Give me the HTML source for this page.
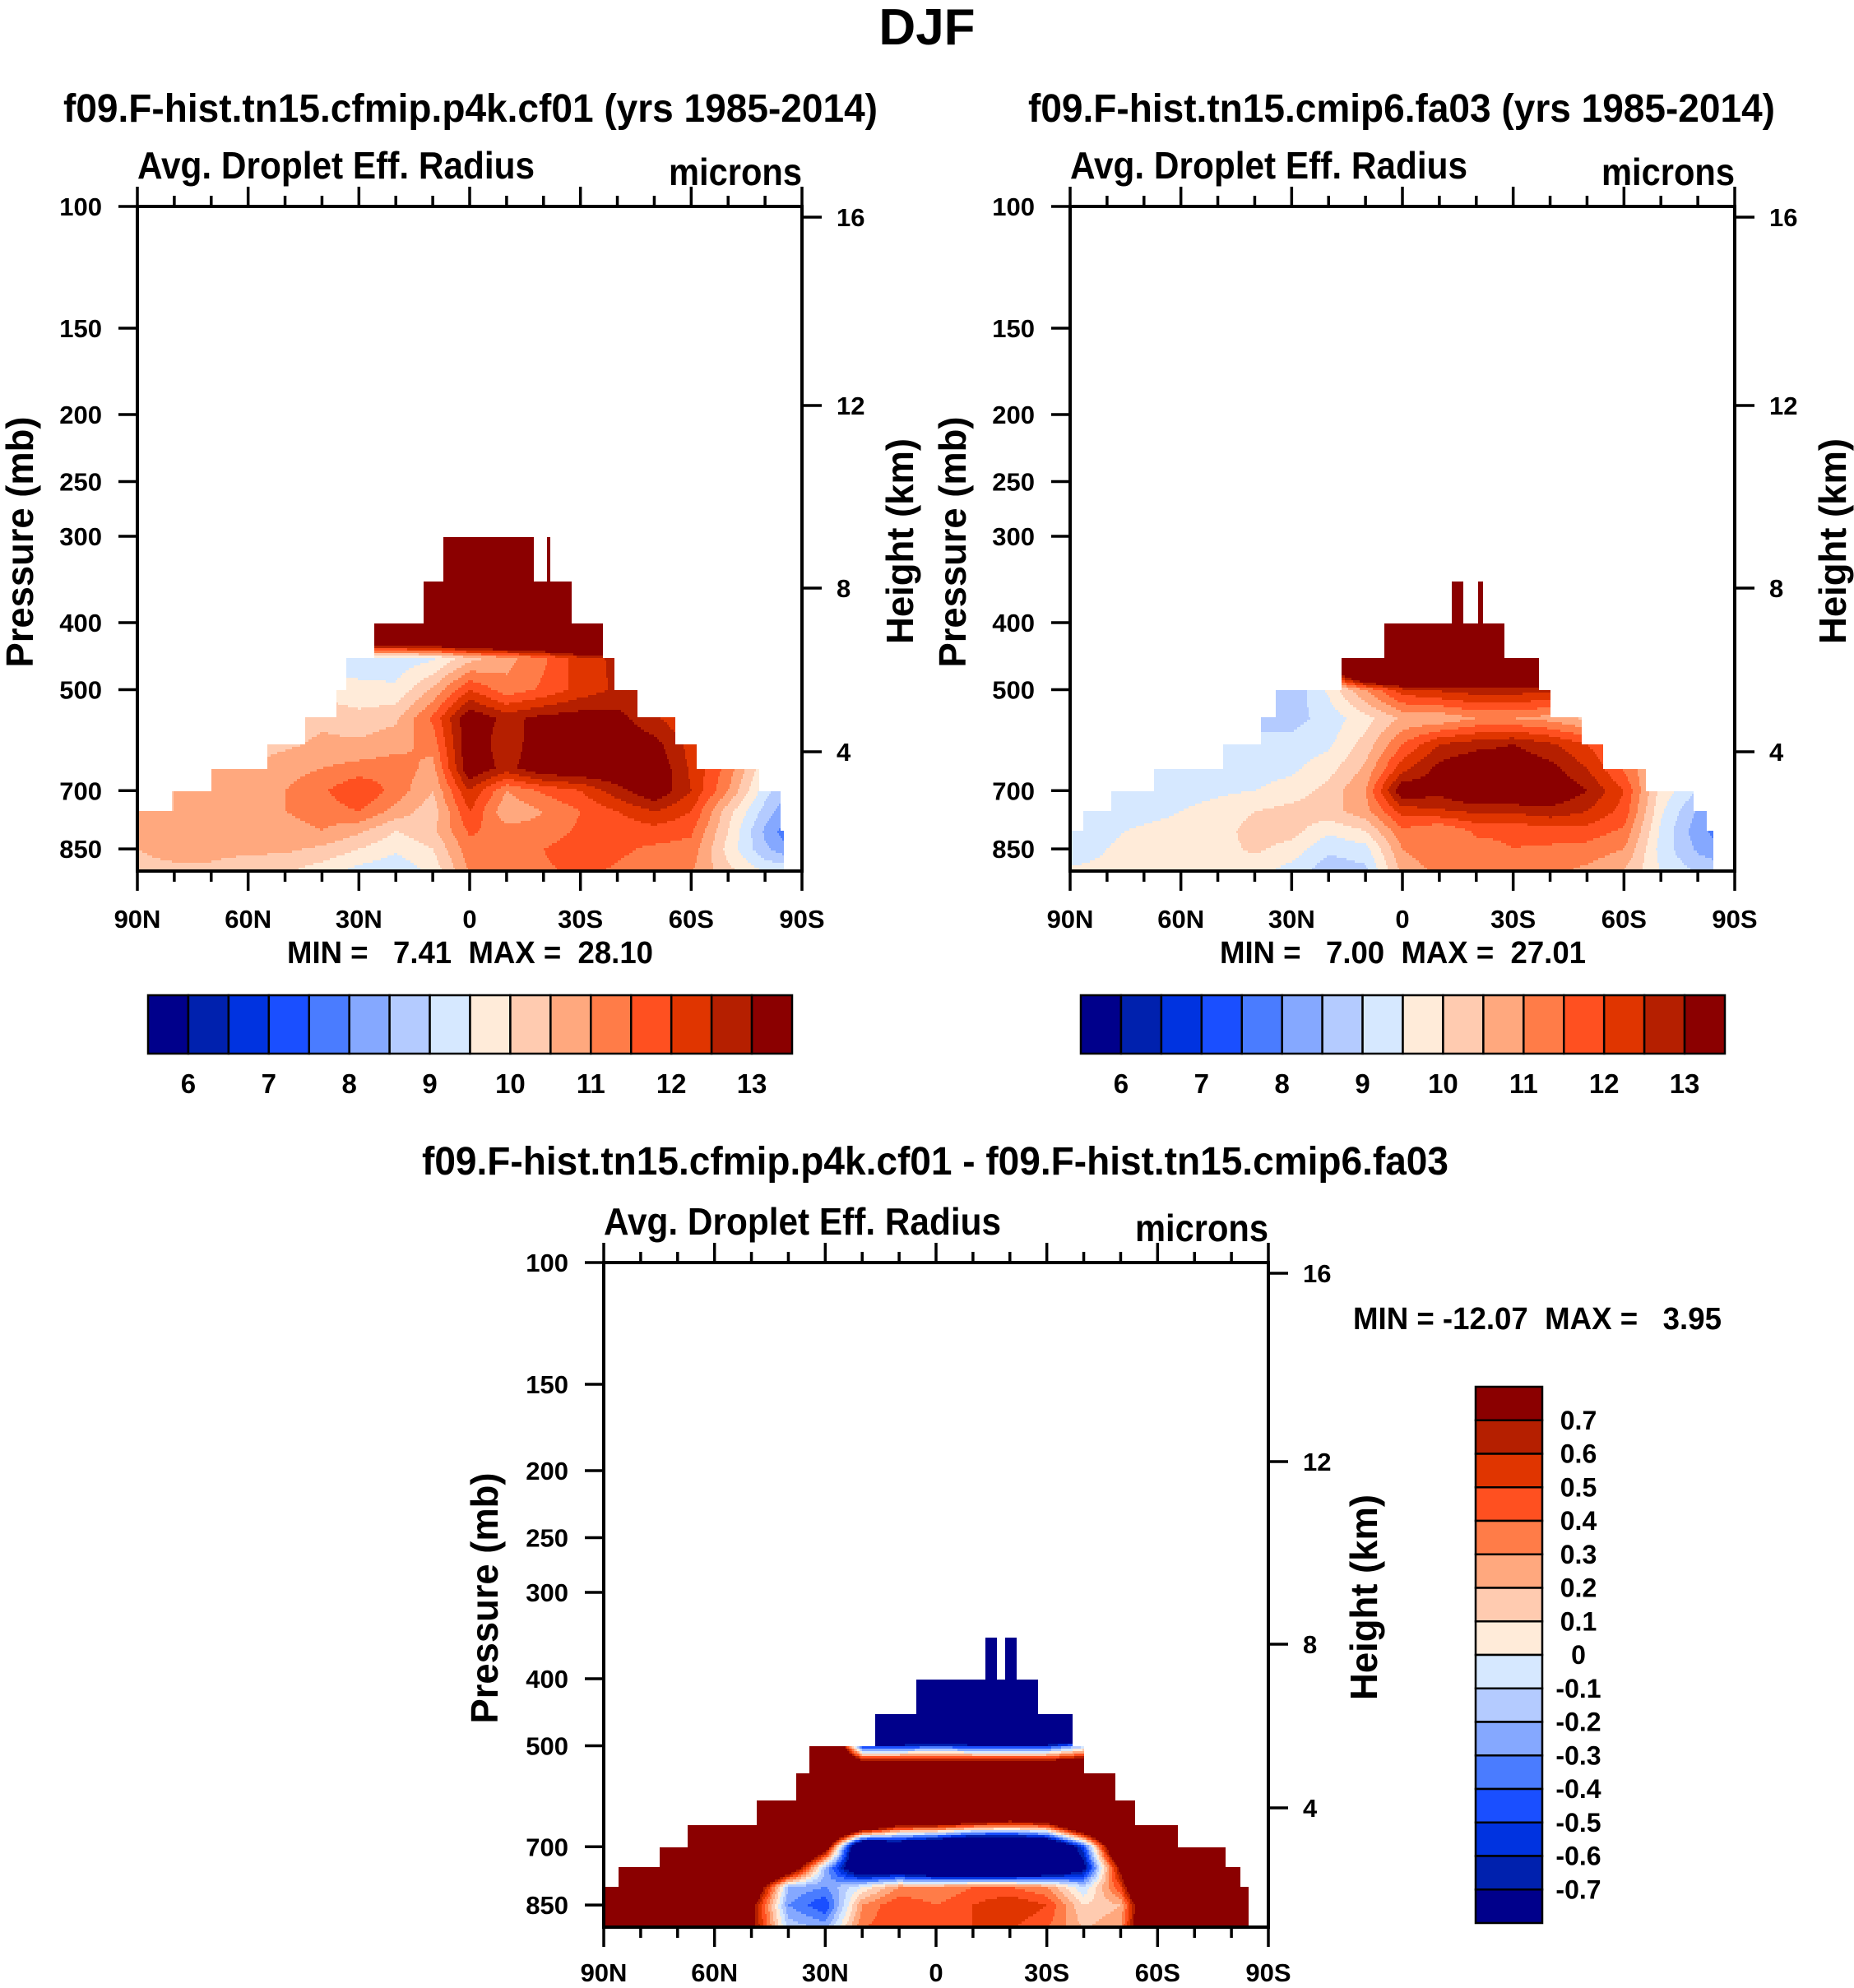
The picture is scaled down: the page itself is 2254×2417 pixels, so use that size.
<!DOCTYPE html>
<html><head><meta charset="utf-8"><style>
html,body{margin:0;padding:0;background:#fff;}
svg{display:block;font-family:"Liberation Sans",Arial,sans-serif;font-weight:bold;}
</style></head>
<body>
<svg id="fig" xmlns="http://www.w3.org/2000/svg" width="2254" height="2417" viewBox="0 0 2254 2417">
<rect x="0" y="0" width="2254" height="2417" fill="#fff"/>
<text x="1127" y="54" font-size="62" text-anchor="middle">DJF</text>
</svg>
<script>
// ---------- data ----------
const PALETTE = ['#00008b','#0021ae','#0033e0','#1a4fff','#4a7cff','#85a8ff','#b4cbff','#d6e8ff','#ffebd9','#ffcbb0','#ffa87e','#ff7c48','#ff5020','#e03500','#b51f00','#8b0000'];
const LAT_NODES = [90,80,70,60,50,40,30,20,10,0,-10,-20,-30,-40,-50,-60,-70,-80,-90];
const P_NODES = [300,400,450,500,550,600,650,700,750,800,850,925];
const P_TICKS = [100,150,200,250,300,400,500,700,850];
const LAT_TICKS = [90,60,30,0,-30,-60,-90];
const LAT_TICK_LABELS = ['90N','60N','30N','0','30S','60S','90S'];
const Z_TICK_LABELS = ['16','12','8','4'];
const LEVELS_ABS = [6,6.5,7,7.5,8,8.5,9,9.5,10,10.5,11,11.5,12,12.5,13];
const LEVELS_DIFF = [-0.7,-0.6,-0.5,-0.4,-0.3,-0.2,-0.1,0,0.1,0.2,0.3,0.4,0.5,0.6,0.7];

const FIELD_A = [
 [20,20,20,20,20,20,20,20,20,20,20,20,20,20,20,20,20,20,20],
 [20,20,20,20,20,20,20,20,20,20,20,20,20,20,20,20,20,20,20],
 [9,9,9,9,9,9.2,9.3,9.2,9.4,10.3,10.8,11.4,12.3,12.6,12,11,10,9,9],
 [9,9,9,9,9.5,9.8,9.6,9.6,10.6,12.0,11.2,11.6,12.2,12.6,12.6,11.5,10.5,9.5,9],
 [9.5,9.5,9.8,10,10.2,10.4,10.2,10.4,11.6,13.5,12.8,13.2,13.3,13.2,12.6,12,11,10,9.5],
 [10,10,10,10.2,10.4,10.6,10.6,10.8,11.2,13.5,12.6,13.5,13.6,13.5,13.2,12.3,11.2,9.8,9],
 [10.4,10.4,10.5,10.6,10.8,11,11.2,11.3,10.8,13.5,12.8,13.5,13.6,13.6,13.5,12.4,11.3,9.6,8.8],
 [10.4,10.5,10.6,10.8,11,11.4,12,11.3,10.5,12.5,11,11.6,12,12.8,13.5,12.5,11,9.2,8.2],
 [10.5,10.5,10.6,10.8,11,11.2,11.5,10.8,10.2,12,10.6,11,11.5,12,12.5,12,10.2,8.8,7.6],
 [10.5,10.6,10.6,10.8,10.8,11,10.6,10,10.4,11.6,11.2,11.2,11.6,11.6,11.8,11.6,10.0,8.4,7.2],
 [10.5,10.6,10.6,10.6,10.6,10.4,10,9.6,10,11.3,11.3,11.5,11.8,11.6,11.4,11.3,9.8,8.6,7.8],
 [10.4,10.4,10.4,10.2,10,9.6,9.2,9.0,9.6,11,11.3,11.4,11.6,11.4,11.2,11,10.2,9.6,9.6]
];
const FIELD_B = [
 [20,20,20,20,20,20,20,20,20,20,20,20,20,20,20,20,20,20,20],
 [20,20,20,20,20,20,20,20,20,20,20,20,20,20,20,20,20,20,20],
 [9.2,9.2,9.2,9.2,9.2,9.2,9.2,14,20,20,20,20,20,20,14,12,12,12,12],
 [9.1,9.1,9.1,9,9,8.8,8.6,9.6,11,12.3,12.6,12.8,12.8,12.6,12.3,12,11,10,9.5],
 [9.2,9.2,9.2,9.1,9,8.9,8.8,9.2,9.8,10.6,10.6,11,11,10.8,10.4,10.3,10.2,9.6,9.3],
 [9.2,9.2,9.2,9.2,9.2,9.1,9.2,9.4,10.2,11.5,12.5,12.8,13,12.6,12,11.3,10.6,9.6,9.3],
 [9.2,9.2,9.2,9.2,9.2,9.3,9.4,9.8,10.6,12.3,13.2,13.6,13.5,13.2,12.5,11.4,10.2,9.4,9],
 [9.2,9.2,9.2,9.3,9.4,9.5,9.7,10.2,11,13.5,13.2,13.8,13.8,13.6,13,12,9.8,9.0,8.5],
 [9.2,9.2,9.3,9.5,9.7,10,10.2,10.3,10.8,12.2,12.4,12.6,12.6,12.8,12.5,11.8,9.6,8.4,7.6],
 [9.2,9.4,9.6,9.7,9.8,10.2,10.2,9.6,10,11.4,11,11.6,11.6,11.8,11.8,11.4,9.4,8.2,7.4],
 [9.3,9.5,9.7,9.8,9.8,10.1,9.8,9.1,9.3,11,11.4,11.3,11.5,11.4,11.3,11,9.3,8.4,7.8],
 [9.6,9.6,9.7,9.7,9.7,9.6,9.2,8.6,8.8,10.6,11.1,11.3,11.3,11.1,10.8,10.4,9.5,9.0,9]
];
const FIELD_D = [
 [-5,-5,-5,-5,-5,-5,-5,-5,-5,-5,-5,-5,-5,-5,-5,-5,-5,-5,-5],
 [-5,-5,-5,-5,-5,-5,-5,-5,-5,-5,-5,-5,-5,-5,-5,-5,-5,-5,-5],
 [2,2,2,2,2,2,2,-5,-5,-5,-5,-5,-5,-5,2,2,2,2,2],
 [2,2,2,2,2,2,2,-0.6,-0.6,-0.5,-0.6,-0.6,-0.6,-0.2,2,2,2,2,2],
 [2,2,2,2,2,2,2,2,2,2,2,2,2,2,2,2,2,2,2],
 [2,2,2,2,2,2,2,2,2,2,2,2,2,2,2,2,2,2,2],
 [2,2,2,2,2,2,2,1.5,0.8,0.8,0.6,0.5,0.6,1.5,2,2,2,2,2],
 [2,2,2,2,2,2,1.0,-1.5,-1.2,-1.5,-1.8,-1.8,-1.5,-0.5,1.5,2,2,2,2],
 [2,2,2,2,2,1.2,-0.2,-1.2,-1.2,-1.5,-1.6,-1.6,-1.4,-0.8,0.8,2,2,2,2],
 [2,2,2,2,1.2,-0.2,-0.3,0,0.3,0.3,0.4,0.4,0.3,-0.1,0.5,2,2,2,2],
 [2,2,2,2,0.8,-0.3,-0.5,0.3,0.5,0.4,0.5,0.6,0.5,0.1,0.2,1.5,2,2,2],
 [2,2,2,2,0.8,-0.1,-0.2,0.4,0.5,0.4,0.5,0.5,0.4,0.2,0.3,1.5,2,2,2]
];
// top-of-data masks: [latStart, latEnd, topPressure]
const MASK_A_START = [90,80.6,70.1,55,44.5,36,33.3,26,12.6,7.2,-17.3,-21,-22,-27.5,-36,-39,-45.3,-55.7,-61.7,-78.5,-84];
const MASK_A_END   = [80.6,70.1,55,44.5,36,33.3,26,12.6,7.2,-17.3,-21,-22,-27.5,-36,-39,-45.3,-55.7,-61.7,-78.5,-84,-85];
const MASK_A_TOP   = [750,700,650,600,550,500,450,400,350,300,350,300,350,400,450,500,550,600,650,700,800];
const MASK_B_START = [90,86.5,79,67.2,48.6,38.2,34.4,16.7,5.1,-13.5,-16.4,-20.3,-22,-27.7,-37.2,-40,-48.7,-54.2,-65.8,-78.8,-82.6];
const MASK_B_END   = [86.5,79,67.2,48.6,38.2,34.4,16.7,5.1,-13.5,-16.4,-20.3,-22,-27.7,-37.2,-40,-48.7,-54.2,-65.8,-78.8,-82.6,-84.3];
const MASK_B_TOP   = [800,750,700,650,600,550,500,450,400,350,400,350,400,450,500,550,600,650,700,750,800];
const MASK_D_START = [90,86.2,74.9,67.4,48.5,37.9,34.3,16.4,5.3,-13.5,-16.4,-18.6,-22,-27.7,-37,-40.2,-48.4,-54.1,-65.7,-78.5,-82.3];
const MASK_D_END   = [86.2,74.9,67.4,48.5,37.9,34.3,16.4,5.3,-13.5,-16.4,-18.6,-22,-27.7,-37,-40.2,-48.4,-54.1,-65.7,-78.5,-82.3,-84.5];
const MASK_D_TOP   = [800,750,700,650,600,550,500,450,400,350,400,350,400,450,500,550,600,650,700,750,800];

// ---------- drawing ----------
const NS = 'http://www.w3.org/2000/svg';
const svg = document.getElementById('fig');
function mk(tag, attrs, parent, txt){
  const e = document.createElementNS(NS, tag);
  for (const k in attrs) e.setAttribute(k, attrs[k]);
  if (txt !== undefined) e.textContent = txt;
  (parent || svg).appendChild(e);
  return e;
}
const W = 808, H = 808, K = 365;
function yOfP(y0, p){ return y0 + K*Math.log(p/100); }
function xOfLat(x0, lat){ return x0 + (90-lat)/180*W; }
function interp(field, lat, p){
  let fi = (90-lat)/10; fi = Math.max(0, Math.min(LAT_NODES.length-1.0001, fi));
  const i = Math.floor(fi), t = fi - i;
  let pp = Math.max(P_NODES[0], Math.min(P_NODES[P_NODES.length-1], p));
  let j = 0; while (j < P_NODES.length-2 && pp > P_NODES[j+1]) j++;
  const s = (pp - P_NODES[j])/(P_NODES[j+1]-P_NODES[j]);
  const a = field[j][i]*(1-t)+field[j][i+1]*t;
  const b = field[j+1][i]*(1-t)+field[j+1][i+1]*t;
  return a*(1-s)+b*s;
}
function colorIdx(v, levels){
  let k = 0; while (k < levels.length && v >= levels[k]) k++;
  return k;
}
function topAt(lat, ms, me, mt){
  for (let k=0;k<ms.length;k++){ if (lat <= ms[k] && lat > me[k]) return mt[k]; }
  return Infinity;
}
function drawPanel(o){
  const g = mk('g', {});
  
  
  const x0=o.x0, y0=o.y0;
  const fill = mk('g', {'shape-rendering':'crispEdges'}, g);
  
  
  const dx = 2, dy = 3;
  for (let py = y0; py < y0+H; py += dy){
    const p = 100*Math.exp((py+dy/2-y0)/K);
    let runStart = null, runC = -1;
    for (let px = x0; px <= x0+W; px += dx){
      let c = -1;
      if (px < x0+W){
        const lat = 90 - (px+dx/2-x0)/W*180;
        if (p >= topAt(lat, o.ms, o.me, o.mt)) c = colorIdx(interp(o.field, lat, p), o.levels);
      }
      if (c !== runC){
        if (runC >= 0){
          const r = mk('rect', {x:runStart, y:py, width:px-runStart, height:dy, fill:PALETTE[runC]}, fill);
          
          
        }
        runStart = px; runC = c;
      }
    }
  }
  const fr = mk('rect', {x:x0, y:y0, width:W, height:H, fill:'none', stroke:'#000', 'stroke-width':4}, g);
  
  
  for (let lat = 90; lat >= -90; lat -= 10){
    const x = xOfLat(x0, lat), major = lat % 30 === 0;
    const L = major ? 24 : 13;
    mk('line', {x1:x, y1:y0, x2:x, y2:y0-L, stroke:'#000', 'stroke-width':3.5}, g);
    mk('line', {x1:x, y1:y0+H, x2:x, y2:y0+H+L, stroke:'#000', 'stroke-width':3.5}, g);
  }
  LAT_TICKS.forEach((lat,i)=>{
    const t = mk('text', {x:xOfLat(x0,lat), y:y0+H+o.latLabDy, 'font-size':31, 'text-anchor':'middle'}, g, LAT_TICK_LABELS[i]);
    
    
  });
  P_TICKS.forEach(p=>{
    const y = yOfP(y0, p);
    mk('line', {x1:x0, y1:y, x2:x0-23, y2:y, stroke:'#000', 'stroke-width':3.5}, g);
    const t = mk('text', {x:x0-43, y:y+11, 'font-size':31, 'text-anchor':'end'}, g, String(p));
    
    
  });
  const zOff = [13, 242, 464, 663];
  Z_TICK_LABELS.forEach((lab,i)=>{
    const y = y0 + zOff[i];
    mk('line', {x1:x0+W, y1:y, x2:x0+W+24, y2:y, stroke:'#000', 'stroke-width':3.5}, g);
    const t = mk('text', {x:x0+W+42, y:y+11, 'font-size':31}, g, lab);
    
    
  });
  let t = mk('text', {x:x0, y:y0-34, 'font-size':46, textLength:483, lengthAdjust:'spacingAndGlyphs'}, g, 'Avg. Droplet Eff. Radius');
  
  
  t = mk('text', {x:x0+646, y:y0-26, 'font-size':46, textLength:162, lengthAdjust:'spacingAndGlyphs'}, g, 'microns');
  
  
  t = mk('text', {x:0, y:0, 'font-size':46, 'text-anchor':'middle', textLength:305, lengthAdjust:'spacingAndGlyphs', transform:`translate(${o.pLabX},${y0+408}) rotate(-90)`}, g, 'Pressure (mb)');
  
  
  t = mk('text', {x:0, y:0, 'font-size':46, 'text-anchor':'middle', textLength:250, lengthAdjust:'spacingAndGlyphs', transform:`translate(${o.hLabX},${y0+407}) rotate(-90)`}, g, 'Height (km)');
  
  
  t = mk('text', {x:o.titleX, y:o.titleY, 'font-size':48, textLength:o.titleW, lengthAdjust:'spacingAndGlyphs'}, g, o.title);
  
  
  t = mk('text', {x:o.mmX, y:o.mmY, 'font-size':38, textLength:o.mmW, lengthAdjust:'spacingAndGlyphs', style:'white-space:pre'}, g, o.minmax);
  
  
}
function hColorbar(x0, y0, w, h, name){
  const g = mk('g', {});
  
  
  const n = PALETTE.length, bw = w/n;
  for (let k=0;k<n;k++){
    const r = mk('rect', {x:x0+k*bw, y:y0, width:bw, height:h, fill:PALETTE[k], stroke:'#000', 'stroke-width':2.5}, g);
    
    
  }
  LEVELS_ABS.forEach((lv,k)=>{
    if (lv % 1 !== 0) return;
    const t = mk('text', {x:x0+(k+1)*bw, y:y0+h+48, 'font-size':33, 'text-anchor':'middle'}, g, String(lv));
    
    
  });
}
function vColorbar(x0, y0, w, h){
  const g = mk('g', {});
  
  
  const n = PALETTE.length, bh = h/n;
  for (let k=0;k<n;k++){
    const r = mk('rect', {x:x0, y:y0+k*bh, width:w, height:bh, fill:PALETTE[n-1-k], stroke:'#000', 'stroke-width':2.5}, g);
    
    
  }
  const rev = LEVELS_DIFF.slice().reverse();
  rev.forEach((lv,k)=>{
    const t = mk('text', {x:x0+w+44, y:y0+(k+1)*bh+11, 'font-size':32, 'text-anchor':'middle'}, g, String(lv));
    
    
  });
}

drawPanel({name:'panel-cf01', x0:167, y0:251, field:FIELD_A, levels:LEVELS_ABS, ms:MASK_A_START, me:MASK_A_END, mt:MASK_A_TOP,
  latLabDy:69, pLabX:40, hLabX:1110, title:'f09.F-hist.tn15.cfmip.p4k.cf01 (yrs 1985-2014)', titleX:77, titleY:148, titleW:990,
  minmax:'MIN =   7.41  MAX =  28.10', mmX:349, mmY:1171, mmW:445});
drawPanel({name:'panel-fa03', x0:1301, y0:251, field:FIELD_B, levels:LEVELS_ABS, ms:MASK_B_START, me:MASK_B_END, mt:MASK_B_TOP,
  latLabDy:69, pLabX:1174, hLabX:2244, title:'f09.F-hist.tn15.cmip6.fa03 (yrs 1985-2014)', titleX:1250, titleY:148, titleW:908,
  minmax:'MIN =   7.00  MAX =  27.01', mmX:1483, mmY:1171, mmW:445});
drawPanel({name:'panel-diff', x0:734, y0:1535, field:FIELD_D, levels:LEVELS_DIFF, ms:MASK_D_START, me:MASK_D_END, mt:MASK_D_TOP,
  latLabDy:66, pLabX:605, hLabX:1674, title:'f09.F-hist.tn15.cfmip.p4k.cf01 - f09.F-hist.tn15.cmip6.fa03', titleX:513, titleY:1428, titleW:1248,
  minmax:'MIN = -12.07  MAX =   3.95', mmX:1645, mmY:1616, mmW:448});
hColorbar(180, 1210, 783, 71, 'colorbar-cf01');
hColorbar(1314, 1210, 783, 71, 'colorbar-fa03');
vColorbar(1794, 1686, 81, 652);
</script>
</body></html>
